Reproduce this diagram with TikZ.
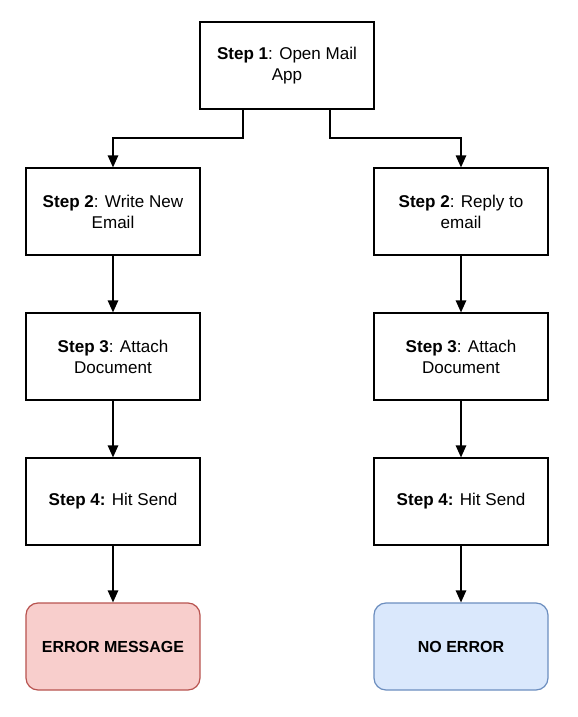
\documentclass[tikz,border=0pt]{standalone}
\usepackage{fontspec}
\setmainfont{Liberation Sans}
\usetikzlibrary{shapes,positioning,calc}
\usetikzlibrary{arrows.meta}
\definecolor{errfill}{HTML}{F8CECC}
\definecolor{errline}{HTML}{B85450}
\definecolor{okfill}{HTML}{DAE8FC}
\definecolor{okline}{HTML}{6C8EBF}
\tikzstyle{stepbox} = [rectangle, minimum width=3.48cm, minimum height=1.74cm, text centered, align=center, draw=black, line width=0.7pt, font=\fontsize{9.7}{12}\selectfont]
\tikzstyle{endbox} = [stepbox, rounded corners=0.24cm, font=\fontsize{9.1}{11}\selectfont\bfseries]
\tikzstyle{arrow} = [line width=0.7pt,-{Triangle[length=2.4mm,width=2.1mm]}]

\begin{document}
\begin{tikzpicture}
	\useasboundingbox (0,0) rectangle (11.56,-14.34);
	\node (open) at (5.74,-1.31) [stepbox] {\textbf{Step 1}: Open Mail\\App};
	\node (newmail) at (2.26,-4.23) [stepbox] {\textbf{Step 2}: Write New\\Email};
	\node (reply) at (9.22,-4.23) [stepbox] {\textbf{Step 2}: Reply to\\email};
	\node (attachA) at (2.26,-7.13) [stepbox] {\textbf{Step 3}: Attach\\Document};
	\node (attachB) at (9.22,-7.13) [stepbox] {\textbf{Step 3}: Attach\\Document};
	\node (sendA) at (2.26,-10.03) [stepbox] {\textbf{Step 4:} Hit Send};
	\node (sendB) at (9.22,-10.03) [stepbox] {\textbf{Step 4:} Hit Send};
	\node (err) at (2.26,-12.93) [endbox, fill=errfill, draw=errline] {ERROR MESSAGE};
	\node (noerr) at (9.22,-12.93) [endbox, fill=okfill, draw=okline] {NO ERROR};
	\draw[arrow] (open.south -| 4.86,0) |- (2.26,-2.76) -- (newmail);
	\draw[arrow] (open.south -| 6.60,0) |- (9.22,-2.76) -- (reply);
	\draw[arrow] (newmail) -- (attachA);
	\draw[arrow] (attachA) -- (sendA);
	\draw[arrow] (sendA) -- (err);
	\draw[arrow] (reply) -- (attachB);
	\draw[arrow] (attachB) -- (sendB);
	\draw[arrow] (sendB) -- (noerr);
\end{tikzpicture}
\end{document}
